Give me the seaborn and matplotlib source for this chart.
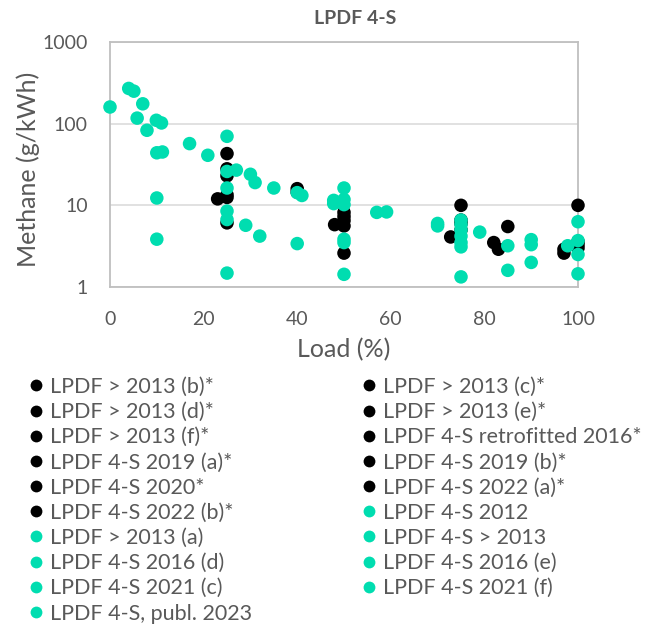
import numpy as np
import pandas as pd

import seaborn as sns
import matplotlib.pyplot as plt
from matplotlib.lines import Line2D
from matplotlib.ticker import FixedLocator, NullLocator

# series names in legend order (Excel fills the legend row by row)
series_names = [
    "LPDF > 2013 (b)*", "LPDF > 2013 (c)*",
    "LPDF > 2013 (d)*", "LPDF > 2013 (e)*",
    "LPDF > 2013 (f)*", "LPDF 4-S retrofitted 2016*",
    "LPDF 4-S 2019 (a)*", "LPDF 4-S 2019 (b)*",
    "LPDF 4-S 2020*", "LPDF 4-S 2022 (a)*",
    "LPDF 4-S 2022 (b)*", "LPDF 4-S 2012",
    "LPDF > 2013 (a)", "LPDF 4-S > 2013",
    "LPDF 4-S 2016 (d)", "LPDF 4-S 2016 (e)",
    "LPDF 4-S 2021 (c)", "LPDF 4-S 2021 (f)",
    "LPDF 4-S, publ. 2023",
]
# first 11 series are the starred (black) ones
starred = [True] * 11 + [False] * 8

# load (%) per series
series_load = [
    [25, 50, 75, 100],
    [25, 50, 75, 100],
    [25, 50, 75, 100],
    [25, 50, 75, 100],
    [25, 50],
    [40, 40],
    [23, 48, 72.8, 97],
    [82, 83],
    [85],
    [97],
    [25],
    [0, 4, 5.1, 7, 5.8, 7.9, 9.9, 11],
    [10, 11.2, 10, 10, 17, 20.9],
    [25, 25, 27, 25, 25, 25, 25],
    [30, 31, 29, 32, 35, 40, 41, 40],
    [47.8, 47.8, 50, 50, 50, 50, 50, 50],
    [57, 59.1, 70, 70, 75, 75, 75, 75, 75, 75, 75],
    [79, 85, 85, 90, 90, 90],
    [97.8, 100, 100, 100, 100],
]
# methane (g/kWh) per series
series_ch4 = [
    [43, 8.2, 10, 10],
    [28, 7.3, 6.6, 3.6],
    [23, 5.6, 6.0, 3.0],
    [12.5, 6.5, 5.0, 3.3],
    [6.1, 2.6],
    [16, 14.5],
    [12, 5.8, 4.1, 2.9],
    [3.5, 2.9],
    [5.5],
    [2.6],
    [13.5],
    [160, 270, 250, 175, 117, 83, 110, 102],
    [44, 45, 12.3, 3.85, 57, 41],
    [70, 26, 27, 16.3, 8.5, 6.7, 1.48],
    [24, 19, 5.7, 4.2, 16.3, 14.3, 13.2, 3.4],
    [11.5, 10.5, 16.3, 11.8, 10.2, 3.85, 3.5, 1.43],
    [8.2, 8.3, 6.0, 5.6, 6.6, 5.8, 5.0, 4.2, 3.5, 3.1, 1.33],
    [4.7, 3.2, 1.6, 3.8, 3.3, 2.0],
    [3.2, 3.7, 6.3, 2.5, 1.45],
]

x_ticks = [0, 20, 40, 60, 80, 100]
y_ticks = [1, 10, 100, 1000]

black = "#000000"
teal = "#00DDB0"
grey_txt = "#595959"

rows = []
for name, xs, ys in zip(series_names, series_load, series_ch4):
    for x, y in zip(xs, ys):
        rows.append((name, x, y))
df = pd.DataFrame(rows, columns=["series", "load", "methane"])
palette = {n: (black if s else teal) for n, s in zip(series_names, starred)}

sns.set_theme(style="white")
plt.rcParams["font.family"] = ["Lato", "DejaVu Sans"]

fig = plt.figure(figsize=(6.54, 6.27), dpi=100)
ax = fig.add_axes([110 / 654, 1 - 287 / 627, 468 / 654, 245 / 627])

sns.scatterplot(data=df, x="load", y="methane", hue="series", hue_order=series_names,
                palette=palette, s=95, linewidth=0, legend=False, ax=ax,
                clip_on=False, zorder=3)

ax.set_yscale("log")
ax.set_ylim(1, 1000)
ax.set_xlim(0, 100)
ax.yaxis.set_major_locator(FixedLocator(y_ticks))
ax.set_yticklabels([str(v) for v in y_ticks])
ax.yaxis.set_minor_locator(NullLocator())
ax.set_xticks(x_ticks)
ax.set_xticklabels([str(v) for v in x_ticks])

ax.grid(axis="y", color="#D9D9D9", linewidth=1.1)
ax.grid(axis="x", visible=False)
for sp in ax.spines.values():
    sp.set_color("#BFBFBF")
    sp.set_linewidth(1.3)
ax.tick_params(axis="both", length=0, labelsize=14, colors=grey_txt)
ax.tick_params(axis="x", pad=17)
ax.tick_params(axis="y", pad=16)

ax.set_xlabel("Load (%)", fontsize=18, color=grey_txt)
ax.set_ylabel("Methane (g/kWh)", fontsize=18, color=grey_txt)
ax.xaxis.set_label_coords(0.5, -(338 - 287) / 245)
ax.yaxis.set_label_coords(-(110 - 40) / 468, 0.48)

fig.text(355 / 654, 1 - 18 / 627, "LPDF 4-S", ha="center", va="center",
         fontsize=14, fontweight="bold", color=grey_txt)

# legend in two columns, row-wise order like Excel
handles = [Line2D([], [], marker="o", linestyle="none", markersize=8.5,
                  markerfacecolor=palette[n], markeredgewidth=0) for n in series_names]
left_idx = list(range(0, len(series_names), 2))
right_idx = list(range(1, len(series_names), 2))
for idx, x0 in [(left_idx, 30), (right_idx, 363)]:
    leg = fig.legend([handles[i] for i in idx], [series_names[i] for i in idx],
                     loc="upper left", bbox_to_anchor=(x0 / 654, 1 - 377 / 627),
                     frameon=False, fontsize=15.5, labelcolor=grey_txt,
                     handlelength=0.6, handletextpad=0.35, labelspacing=0.24,
                     borderpad=0, borderaxespad=0)

fig.savefig("out.png", dpi=100)
